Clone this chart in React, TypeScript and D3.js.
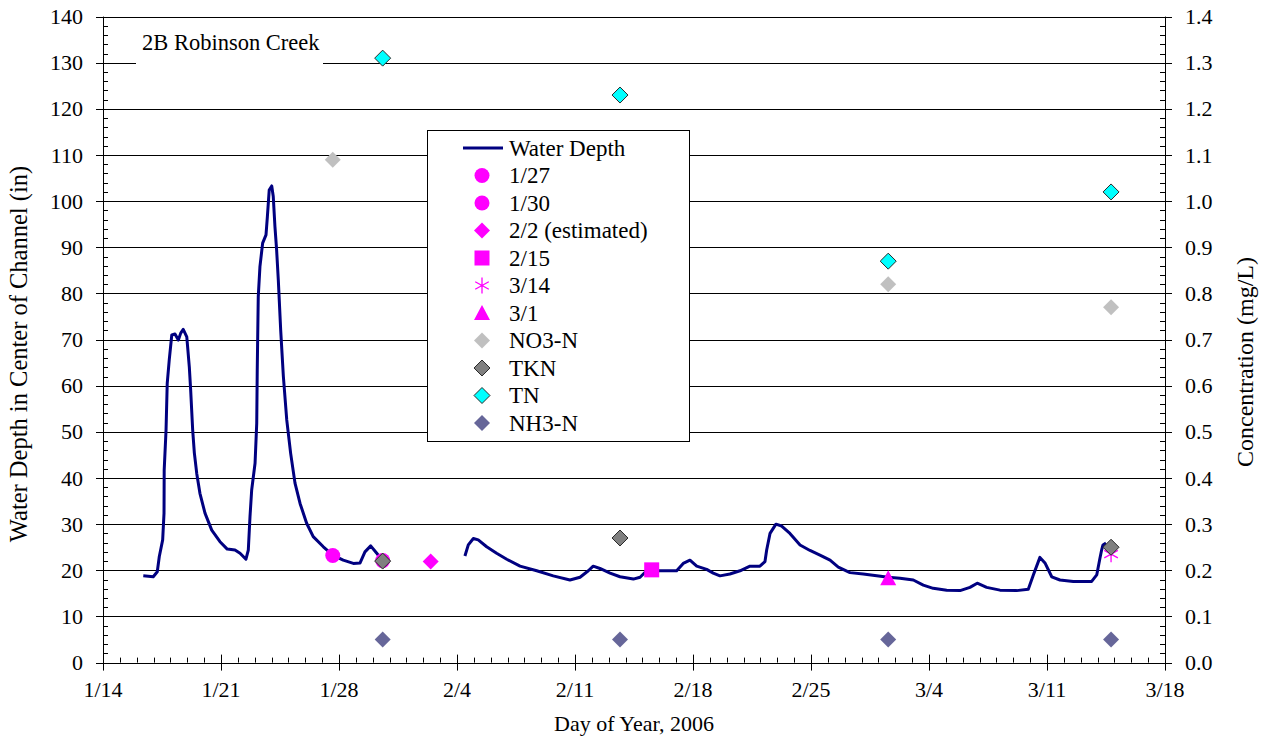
import React from "react";
import * as d3 from "d3";

// ---------- DATA ----------
// Water depth (in), day-of-year 2006 (1/14 = 14). NaN marks the data gap.
const depthDay = [
  16.39, 16.98, 17.22, 17.34, 17.54, 17.62, 17.63, 17.74, 17.81, 17.93,
  18.08, 18.27, 18.47, 18.61, 18.76, 18.97, 19.12, 19.2, 19.32, 19.42,
  19.56, 19.75, 20.05, 20.45, 20.94, 21.37, 21.83, 22.13, 22.48, 22.62,
  22.72, 22.82, 23.02, 23.12, 23.15, 23.21, 23.31, 23.47, 23.67, 23.75,
  23.86, 24.01, 24.1, 24.2, 24.3, 24.4, 24.54, 24.7, 24.9, 25.13,
  25.39, 25.69, 26.08, 26.47, 27.07, 27.63, 28.25, 28.85, 29.25, 29.54,
  29.88, 30.24, 30.59,
  NaN,
  35.47, 35.67, 35.97, 36.26, 36.76, 37.35, 37.95, 38.74, 39.73, 40.71,
  41.7, 42.3, 42.79, 43.08, 43.48, 44.08, 44.67, 45.46, 45.86, 46.25,
  47.44, 48.03, 48.42, 48.82, 49.22, 49.81, 50.2, 50.6, 51.19, 51.79,
  52.38, 52.97, 53.27, 53.37, 53.57, 53.92, 54.26, 54.75, 55.35, 55.94,
  56.53, 57.13, 57.62, 58.31, 59.1, 59.9, 60.58, 61.28, 62.07, 62.66,
  63.25, 64.05, 64.84, 65.43, 65.86, 66.42, 67.21, 68.2, 68.89, 69.19,
  69.58, 69.88, 70.28, 70.77, 71.56, 72.65, 72.95, 73.14, 73.24, 73.32,
  73.5,
];
const depthIn = [
  18.8, 18.6, 19.7, 23.0, 26.6, 32.4, 41.7, 50.4, 60.5, 65.6,
  71.0, 71.2, 69.9, 71.4, 72.2, 70.6, 64.1, 59.1, 50.4, 45.4,
  41.0, 36.7, 32.4, 28.7, 26.2, 24.6, 24.4, 23.7, 22.4, 24.4,
  31.6, 37.4, 43.2, 51.9, 63.4, 79.3, 85.8, 90.9, 92.7, 96.6,
  102.4, 103.3, 101.0, 94.5, 89.4, 82.9, 72.1, 62.0, 52.6, 45.4,
  38.9, 34.5, 30.2, 27.3, 25.1, 23.3, 22.2, 21.5, 21.6, 24.0,
  25.3, 23.7, 21.9,
  NaN,
  23.1, 25.5, 26.9, 26.6, 25.1, 23.7, 22.4, 20.9, 19.9, 18.8,
  17.9, 18.5, 19.9, 20.9, 20.4, 19.4, 18.6, 18.1, 18.5, 19.9,
  19.9, 19.9, 21.5, 22.2, 20.9, 20.2, 19.4, 18.8, 19.2, 19.9,
  20.9, 20.9, 21.9, 24.4, 28.0, 30.0, 29.6, 28.0, 25.5, 24.3,
  23.3, 22.2, 20.7, 19.5, 19.2, 18.8, 18.5, 18.3, 17.9, 16.8,
  16.1, 15.7, 15.6, 16.3, 17.2, 16.3, 15.7, 15.6, 15.9, 19.0,
  22.8, 21.6, 18.6, 17.9, 17.6, 17.6, 19.0, 22.6, 24.4, 25.5,
  25.9,
];

// Sampling events (left axis, water depth at sampling)
const sampleLabels = ["1/27", "1/30", "2/2 (estimated)", "2/15", "3/14", "3/1"];
const sampleShapes = ["circle", "circle", "diamond", "square", "star", "triangle"];
const sampleDays = [27.63, 30.59, 33.44, 46.55, 73.8, 60.58];
const sampleDepths = [23.2, 22.1, 21.9, 20.1, 23.5, 18.3];

// Concentrations (right axis, mg/L)
const no3Days = [27.63, 60.58, 73.8];
const no3Values = [1.09, 0.82, 0.77];
const tknDays = [30.59, 44.67, 73.8];
const tknValues = [0.22, 0.27, 0.25];
const tnDays = [30.59, 44.67, 60.58, 73.8];
const tnValues = [1.31, 1.23, 0.87, 1.02];
const nh3Days = [30.59, 44.67, 60.58, 73.8];
const nh3Values = [0.05, 0.05, 0.05, 0.05];

// Axis ticks
const xTickDays = [14, 21, 28, 35, 42, 49, 56, 63, 70, 77];
const xTickLabels = ["1/14", "1/21", "1/28", "2/4", "2/11", "2/18", "2/25", "3/4", "3/11", "3/18"];
const leftTicks = [0, 10, 20, 30, 40, 50, 60, 70, 80, 90, 100, 110, 120, 130, 140];
const rightTicks = [0, 0.1, 0.2, 0.3, 0.4, 0.5, 0.6, 0.7, 0.8, 0.9, 1.0, 1.1, 1.2, 1.3, 1.4];

const chartTitle = "2B Robinson Creek";
const xTitle = "Day of Year, 2006";
const yLeftTitle = "Water Depth in Center of Channel (in)";
const yRightTitle = "Concentration (mg/L)";

// ---------- STYLE ----------
const FONT = "'Liberation Serif', 'Times New Roman', serif";
const NAVY = "#000080";
const MAGENTA = "#FF00FF";

const X0 = 103, X1 = 1165, Y0 = 662.6, Y1 = 16.6;

function Marker({ shape, x, y, fill, stroke, r = 8 }: any) {
  const sw = stroke ? 1 : 0;
  if (shape === "circle")
    return <circle cx={x} cy={y} r={r - 0.5} fill={fill} />;
  if (shape === "square")
    return <rect x={x - r + 0.5} y={y - r + 0.5} width={2 * r - 1} height={2 * r - 1} fill={fill} />;
  if (shape === "triangle")
    return <path d={`M${x},${y - r} L${x + r},${y + r - 1} L${x - r},${y + r - 1}Z`} fill={fill} />;
  if (shape === "star") {
    const a = r * 0.85;
    return (
      <path
        d={`M${x},${y - r} L${x},${y + r} M${x - a},${y - a * 0.55} L${x + a},${y + a * 0.55} M${x - a},${y + a * 0.55} L${x + a},${y - a * 0.55}`}
        stroke={fill}
        strokeWidth={1.3}
        fill="none"
      />
    );
  }
  // diamond
  return (
    <path
      d={`M${x},${y - r} L${x + r},${y} L${x},${y + r} L${x - r},${y}Z`}
      fill={fill}
      stroke={stroke || "none"}
      strokeWidth={sw}
    />
  );
}

export default function App() {
  const x = d3.scaleLinear().domain([14, 77]).range([X0, X1]);
  const yL = d3.scaleLinear().domain([0, 140]).range([Y0, Y1]);
  const yR = d3.scaleLinear().domain([0, 1.4]).range([Y0, Y1]);
  const crisp = (v: number) => Math.round(v) + 0.5;

  const pts = depthDay.map((d, i) => [d, depthIn[i]] as [number, number]);
  const line = d3
    .line<[number, number]>()
    .defined((p) => !isNaN(p[0]) && !isNaN(p[1]))
    .x((p) => x(p[0]))
    .y((p) => yL(p[1]));

  const leftMinor = d3.range(0, 140.001, 2);
  const rightMinor = d3.range(0, 1.4001, 0.02);
  const xMinor = d3.range(14, 77.001, 1);

  const concSeries = [
    { label: "NO3-N", days: no3Days, vals: no3Values, fill: "#C0C0C0", stroke: null },
    { label: "TKN", days: tknDays, vals: tknValues, fill: "#808080", stroke: "#2a2a2a" },
    { label: "TN", days: tnDays, vals: tnValues, fill: "#00FFFF", stroke: "#2a2a2a" },
    { label: "NH3-N", days: nh3Days, vals: nh3Values, fill: "#666699", stroke: null },
  ];

  const legendItems: any[] = [
    { label: "Water Depth", kind: "line" },
    ...sampleLabels.map((l, i) => ({ label: l, kind: sampleShapes[i], fill: MAGENTA, stroke: null })),
    ...concSeries.map((s) => ({ label: s.label, kind: "diamond", fill: s.fill, stroke: s.stroke })),
  ];
  const legX = 427.5, legY = 130.5, legW = 262, legH = 311;
  const legRow0 = 148, legStep = 30.8;

  return (
    <svg
      width={1270}
      height={742}
      style={{ position: "absolute", left: 0, top: 0, background: "#fff" }}
      fontFamily={FONT}
    >
      <rect x={0} y={0} width={1270} height={742} fill="#fff" />

      {/* gridlines */}
      {leftTicks.filter((t) => t > 0).map((t) => (
        <line key={"g" + t} x1={X0} x2={X1} y1={crisp(yL(t))} y2={crisp(yL(t))} stroke="#000" strokeWidth={1} />
      ))}

      {/* title box */}
      <rect x={136} y={24} width={187} height={44} fill="#fff" />
      <text x={142} y={49.5} fontSize={22.5} fill="#000">{chartTitle}</text>

      {/* axes */}
      <line x1={crisp(X0)} x2={crisp(X0)} y1={Y1} y2={Y0} stroke="#000" />
      <line x1={crisp(X1)} x2={crisp(X1)} y1={Y1} y2={Y0} stroke="#000" />
      <line x1={X0} x2={X1} y1={crisp(Y0)} y2={crisp(Y0)} stroke="#000" />

      {/* left ticks */}
      {leftMinor.map((t) => (
        <line key={"lm" + t} x1={X0} x2={X0 + 5} y1={crisp(yL(t))} y2={crisp(yL(t))} stroke="#000" />
      ))}
      {leftTicks.map((t) => (
        <g key={"lt" + t}>
          <line x1={X0 - 7} x2={X0 + 6} y1={crisp(yL(t))} y2={crisp(yL(t))} stroke="#000" />
          <text x={83} y={yL(t)} dy="0.34em" textAnchor="end" fontSize={22} fill="#000">{t}</text>
        </g>
      ))}

      {/* right ticks */}
      {rightMinor.map((t) => (
        <line key={"rm" + t} x1={X1 - 5} x2={X1} y1={crisp(yR(t))} y2={crisp(yR(t))} stroke="#000" />
      ))}
      {rightTicks.map((t) => (
        <g key={"rt" + t}>
          <line x1={X1 - 6} x2={X1 + 7} y1={crisp(yR(t))} y2={crisp(yR(t))} stroke="#000" />
          <text x={1185} y={yR(t)} dy="0.34em" textAnchor="start" fontSize={22} fill="#000">{t.toFixed(1)}</text>
        </g>
      ))}

      {/* x ticks */}
      {xMinor.map((d) => (
        <line key={"xm" + d} x1={crisp(x(d))} x2={crisp(x(d))} y1={Y0 - 5} y2={Y0} stroke="#000" />
      ))}
      {xTickDays.map((d, i) => (
        <g key={"xt" + d}>
          <line x1={crisp(x(d))} x2={crisp(x(d))} y1={Y0 - 8} y2={Y0 + 8} stroke="#000" />
          <text x={x(d)} y={697} textAnchor="middle" fontSize={22} fill="#000">{xTickLabels[i]}</text>
        </g>
      ))}

      {/* axis titles */}
      <text x={634} y={731} textAnchor="middle" fontSize={22} fill="#000">{xTitle}</text>
      <text transform="translate(27,354) rotate(-90)" textAnchor="middle" fontSize={24.5} fill="#000">{yLeftTitle}</text>
      <text transform="translate(1253,362) rotate(-90)" textAnchor="middle" fontSize={24} fill="#000">{yRightTitle}</text>

      {/* water depth line */}
      <path d={line(pts) || ""} fill="none" stroke={NAVY} strokeWidth={3} strokeLinejoin="round" />

      {/* sample markers */}
      {sampleDays.map((d, i) => (
        <Marker key={"s" + i} shape={sampleShapes[i]} x={x(d)} y={yL(sampleDepths[i])} fill={MAGENTA} />
      ))}

      {/* concentration markers */}
      {concSeries.map((s) =>
        s.days.map((d, i) => (
          <Marker key={s.label + i} shape="diamond" x={x(d)} y={yR(s.vals[i])} fill={s.fill} stroke={s.stroke} />
        ))
      )}

      {/* legend */}
      <rect x={legX} y={legY} width={legW} height={legH} fill="#fff" stroke="#000" strokeWidth={1} />
      {legendItems.map((it, i) => {
        const cy = legRow0 + i * ((legH - 36) / (legendItems.length - 1));
        return (
          <g key={"leg" + i}>
            {it.kind === "line" ? (
              <line x1={463} x2={503} y1={cy} y2={cy} stroke={NAVY} strokeWidth={3} />
            ) : (
              <Marker shape={it.kind} x={482} y={cy} fill={it.fill} stroke={it.stroke} />
            )}
            <text x={509} y={cy} dy="0.33em" fontSize={23} fill="#000">{it.label}</text>
          </g>
        );
      })}
    </svg>
  );
}
